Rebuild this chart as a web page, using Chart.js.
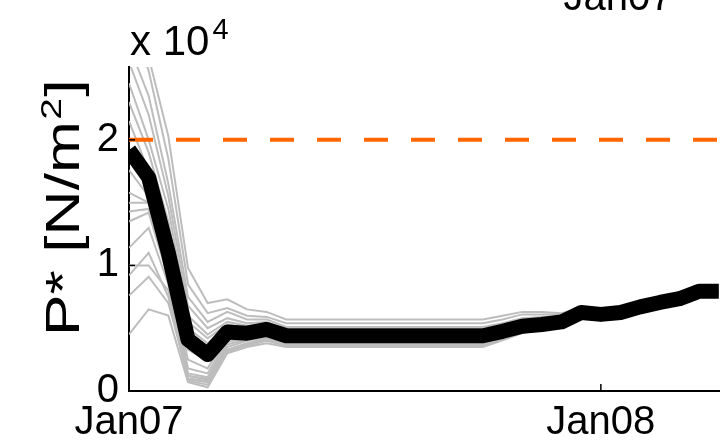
<!DOCTYPE html>
<html>
<head>
<meta charset="utf-8">
<title>P* ensemble</title>
<script src="https://cdn.jsdelivr.net/npm/chart.js@4/dist/chart.umd.min.js"></script>
<style>
  html, body { margin: 0; padding: 0; background: #ffffff; overflow: hidden; }
  #wrap { position: relative; width: 720px; height: 442px; }
</style>
</head>
<body>
<div id="wrap"><canvas id="chart" width="720" height="442"></canvas></div>
<script>
// Time axis: half-month steps counted from 1 Jan 2007
const halfMonth = [0, 1, 2, 3, 4, 5, 6, 7, 8, 9, 10, 11, 12, 13, 14, 15, 16, 17, 18, 19, 20, 21, 22, 23, 24, 25, 26, 27, 28, 29, 30];
const xTickValues = [0, 24];
const xTickLabels = ['Jan07', 'Jan08'];
const yTickValues = [0, 1, 2];
const yTickLabels = ['0', '1', '2'];

// Ice strength P*, in units of 10^4 N/m^2
const referenceStrength = 2;

const bestFit = [1.92, 1.70, 1.10, 0.41, 0.29, 0.47, 0.46, 0.49, 0.44,
  0.44, 0.44, 0.44, 0.44, 0.44, 0.44, 0.44, 0.44, 0.44,
  0.44, 0.475, 0.515, 0.53, 0.55, 0.625, 0.61, 0.625, 0.67, 0.705, 0.735, 0.795, 0.795];

const member01 = [3.40, 2.66, 2.03, 0.98, 0.70, 0.73, 0.65, 0.63, 0.57,
  0.57, 0.57, 0.57, 0.57, 0.57, 0.57, 0.57, 0.57, 0.57,
  0.57, 0.60, 0.63, 0.63, 0.62, 0.66, 0.63, 0.64, 0.69, 0.72, 0.745, 0.80, 0.80];
const member02 = [3.00, 2.55, 1.85, 0.85, 0.62, 0.66, 0.60, 0.59, 0.54,
  0.54, 0.54, 0.54, 0.54, 0.54, 0.54, 0.54, 0.54, 0.54,
  0.54, 0.57, 0.61, 0.61, 0.61, 0.655, 0.625, 0.64, 0.685, 0.715, 0.74, 0.80, 0.80];
const member03 = [2.75, 2.35, 1.65, 0.75, 0.55, 0.63, 0.57, 0.57, 0.51,
  0.51, 0.51, 0.51, 0.51, 0.51, 0.51, 0.51, 0.51, 0.51,
  0.51, 0.54, 0.58, 0.59, 0.595, 0.65, 0.62, 0.635, 0.68, 0.71, 0.74, 0.795, 0.795];
const member04 = [2.62, 2.20, 1.55, 0.68, 0.50, 0.58, 0.54, 0.55, 0.48,
  0.48, 0.48, 0.48, 0.48, 0.48, 0.48, 0.48, 0.48, 0.48,
  0.48, 0.51, 0.55, 0.56, 0.58, 0.64, 0.615, 0.63, 0.675, 0.71, 0.74, 0.80, 0.80];
const member05 = [2.45, 2.00, 1.45, 0.60, 0.45, 0.55, 0.52, 0.53, 0.47,
  0.47, 0.47, 0.47, 0.47, 0.47, 0.47, 0.47, 0.47, 0.47,
  0.47, 0.50, 0.54, 0.55, 0.57, 0.635, 0.615, 0.63, 0.675, 0.705, 0.735, 0.795, 0.795];
const member06 = [2.30, 1.90, 1.35, 0.55, 0.42, 0.53, 0.50, 0.52, 0.46,
  0.46, 0.46, 0.46, 0.46, 0.46, 0.46, 0.46, 0.46, 0.46,
  0.46, 0.49, 0.525, 0.54, 0.555, 0.63, 0.612, 0.627, 0.672, 0.707, 0.737, 0.797, 0.797];
const member07 = [2.15, 1.75, 1.25, 0.50, 0.38, 0.51, 0.49, 0.51, 0.45,
  0.45, 0.45, 0.45, 0.45, 0.45, 0.45, 0.45, 0.45, 0.45,
  0.45, 0.483, 0.52, 0.535, 0.553, 0.627, 0.611, 0.626, 0.671, 0.706, 0.736, 0.796, 0.796];
const member08 = [1.76, 1.55, 1.05, 0.33, 0.24, 0.45, 0.45, 0.48, 0.43,
  0.43, 0.43, 0.43, 0.43, 0.43, 0.43, 0.43, 0.43, 0.43,
  0.43, 0.467, 0.509, 0.525, 0.547, 0.623, 0.609, 0.624, 0.669, 0.704, 0.734, 0.794, 0.794];
const member09 = [1.58, 1.50, 0.98, 0.25, 0.18, 0.43, 0.44, 0.47, 0.42,
  0.42, 0.42, 0.42, 0.42, 0.42, 0.42, 0.42, 0.42, 0.42,
  0.42, 0.459, 0.503, 0.521, 0.544, 0.621, 0.608, 0.623, 0.668, 0.703, 0.733, 0.793, 0.793];
const member10 = [1.50, 1.50, 0.95, 0.18, 0.14, 0.41, 0.43, 0.46, 0.41,
  0.41, 0.41, 0.41, 0.41, 0.41, 0.41, 0.41, 0.41, 0.41,
  0.41, 0.451, 0.497, 0.516, 0.541, 0.619, 0.607, 0.622, 0.667, 0.702, 0.732, 0.792, 0.792];
const member11 = [1.43, 1.45, 0.92, 0.14, 0.11, 0.39, 0.42, 0.45, 0.40,
  0.40, 0.40, 0.40, 0.40, 0.40, 0.40, 0.40, 0.40, 0.40,
  0.40, 0.443, 0.491, 0.512, 0.538, 0.617, 0.606, 0.621, 0.666, 0.701, 0.731, 0.791, 0.791];
const member12 = [1.35, 1.42, 0.90, 0.12, 0.10, 0.37, 0.41, 0.44, 0.39,
  0.39, 0.39, 0.39, 0.39, 0.39, 0.39, 0.39, 0.39, 0.39,
  0.39, 0.435, 0.485, 0.507, 0.535, 0.615, 0.605, 0.62, 0.665, 0.70, 0.73, 0.79, 0.79];
const member13 = [1.14, 1.30, 0.85, 0.10, 0.08, 0.35, 0.40, 0.43, 0.38,
  0.38, 0.38, 0.38, 0.38, 0.38, 0.38, 0.38, 0.38, 0.38,
  0.38, 0.427, 0.479, 0.503, 0.532, 0.613, 0.604, 0.619, 0.664, 0.699, 0.729, 0.789, 0.789];
const member14 = [1.00, 1.00, 0.80, 0.09, 0.07, 0.33, 0.38, 0.42, 0.37,
  0.37, 0.37, 0.37, 0.37, 0.37, 0.37, 0.37, 0.37, 0.37,
  0.37, 0.419, 0.473, 0.498, 0.529, 0.611, 0.603, 0.618, 0.663, 0.698, 0.728, 0.788, 0.788];
const member15 = [0.92, 1.10, 0.75, 0.08, 0.05, 0.31, 0.37, 0.41, 0.36,
  0.36, 0.36, 0.36, 0.36, 0.36, 0.36, 0.36, 0.36, 0.36,
  0.36, 0.411, 0.467, 0.494, 0.526, 0.609, 0.602, 0.617, 0.662, 0.697, 0.727, 0.787, 0.787];
const member16 = [0.76, 0.91, 0.70, 0.12, 0.09, 0.32, 0.36, 0.40, 0.36,
  0.36, 0.36, 0.36, 0.36, 0.36, 0.36, 0.36, 0.36, 0.36,
  0.36, 0.41, 0.465, 0.492, 0.525, 0.608, 0.60, 0.616, 0.661, 0.696, 0.726, 0.786, 0.786];
const member17 = [0.45, 0.65, 0.60, 0.07, 0.03, 0.30, 0.35, 0.38, 0.35,
  0.35, 0.35, 0.35, 0.35, 0.35, 0.35, 0.35, 0.35, 0.35,
  0.35, 0.403, 0.461, 0.49, 0.523, 0.607, 0.601, 0.616, 0.661, 0.696, 0.726, 0.786, 0.786];

const ensembleMembers = [member01, member02, member03, member04, member05, member06,
  member07, member08, member09, member10, member11, member12, member13, member14,
  member15, member16, member17];

const FONT = "'Liberation Sans', Arial, Helvetica, sans-serif";
const xMax = 30.06;
const yMax = 2.58;

Chart.defaults.font.family = FONT;

const datasets = ensembleMembers.map((values, k) => ({
  label: 'member ' + (k + 1),
  data: values,
  borderColor: '#bdbdbd',
  borderWidth: 2,
  pointRadius: 0,
  clip: 0,
  order: 3
}));
datasets.push({
  label: 'best estimate',
  data: bestFit,
  borderColor: '#000000',
  borderWidth: 15,
  borderJoinStyle: 'round',
  pointRadius: 0,
  clip: 0,
  order: 2
});
datasets.push({
  label: 'reference P*',
  data: [{ x: halfMonth[0], y: referenceStrength }, { x: xMax, y: referenceStrength }],
  borderColor: '#ff6600',
  borderWidth: 4,
  borderDash: [24, 23],
  pointRadius: 0,
  clip: 0,
  order: 1
});

// inward tick marks, exponent note, rotated axis title
const decorations = {
  id: 'decorations',
  afterDatasetsDraw(chart) {
    const { ctx, scales: { x, y } } = chart;
    ctx.save();
    ctx.strokeStyle = '#000';
    ctx.lineWidth = 1.5;
    yTickValues.forEach(v => {
      const py = y.getPixelForValue(v);
      ctx.beginPath(); ctx.moveTo(x.left, py); ctx.lineTo(x.left + 6, py); ctx.stroke();
    });
    xTickValues.forEach(v => {
      const px = x.getPixelForValue(v);
      ctx.beginPath(); ctx.moveTo(px, y.bottom); ctx.lineTo(px, y.bottom - 7); ctx.stroke();
    });
    ctx.restore();
  },
  afterDraw(chart) {
    const ctx = chart.ctx;
    ctx.save();
    ctx.fillStyle = '#000';
    ctx.textBaseline = 'alphabetic';
    ctx.textAlign = 'left';

    // axis multiplier
    ctx.font = `42px ${FONT}`;
    ctx.fillText('x 10', 130, 55);
    const w = ctx.measureText('x 10').width;
    ctx.font = `29px ${FONT}`;
    ctx.fillText('4', 130 + w + 3, 39);

    // y axis title
    ctx.save();
    ctx.translate(79, 336);
    ctx.rotate(-Math.PI / 2);
    ctx.scale(1.3, 1);
    ctx.font = `48px ${FONT}`;
    ctx.fillText('P* [N/m', 0, 0);
    let cx = ctx.measureText('P* [N/m').width;
    ctx.font = `30px ${FONT}`;
    ctx.fillText('2', cx + 1, -18);
    cx += ctx.measureText('2').width + 2;
    ctx.font = `48px ${FONT}`;
    ctx.fillText(']', cx, 0);
    ctx.restore();

    // date label of the panel above
    ctx.font = `40px ${FONT}`;
    ctx.textAlign = 'center';
    ctx.fillText('Jan07', 618, 10);
    ctx.restore();
  }
};

new Chart(document.getElementById('chart'), {
  type: 'line',
  data: { labels: halfMonth, datasets },
  plugins: [decorations],
  options: {
    responsive: false,
    animation: false,
    devicePixelRatio: 1,
    layout: { padding: { top: 67, right: 0, bottom: 0, left: 0 } },
    plugins: { legend: { display: false }, tooltip: { enabled: false }, title: { display: false } },
    elements: { line: { tension: 0 } },
    scales: {
      x: {
        type: 'linear',
        min: 0,
        max: xMax,
        afterBuildTicks: s => { s.ticks = xTickValues.map(v => ({ value: v })); },
        afterFit: s => { s.height = 51; },
        grid: { display: true, color: 'rgba(0,0,0,0)', drawTicks: false },
        border: { display: true, color: '#000', width: 2 },
        ticks: {
          color: '#000', padding: 8, maxRotation: 0, autoSkip: false,
          font: { size: 40 },
          callback: v => xTickLabels[xTickValues.indexOf(v)]
        }
      },
      y: {
        type: 'linear',
        min: 0,
        max: yMax,
        afterBuildTicks: s => { s.ticks = yTickValues.map(v => ({ value: v })); },
        afterFit: s => { s.width = 129; },
        grid: { display: true, color: 'rgba(0,0,0,0)', drawTicks: false },
        border: { display: true, color: '#000', width: 2 },
        ticks: {
          color: '#000', padding: 10, autoSkip: false,
          font: { size: 40 },
          callback: v => yTickLabels[yTickValues.indexOf(v)]
        }
      }
    }
  }
});
</script>
</body>
</html>
